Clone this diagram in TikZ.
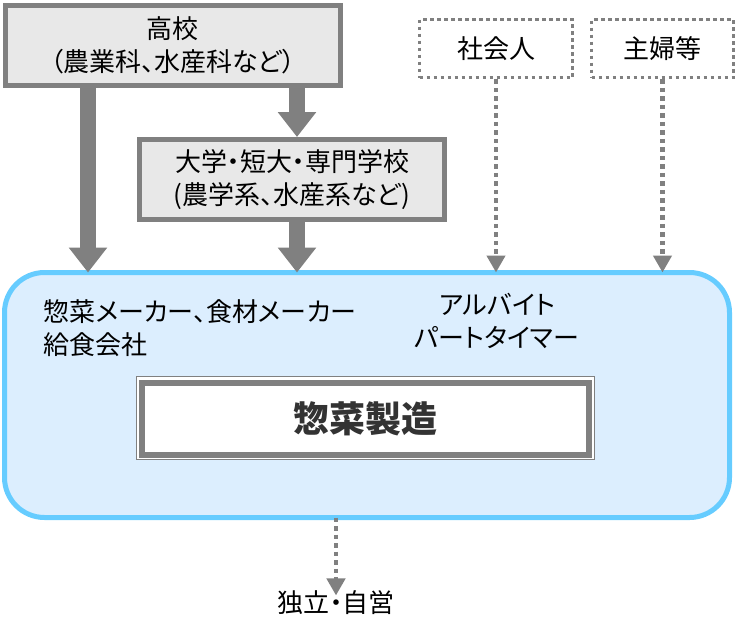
\documentclass[tikz,border=0pt]{standalone}
\usepackage{fontspec}
\setmainfont[RawFeature=+palt]{Noto Sans CJK JP}
\usepackage{tikz}
\usetikzlibrary{arrows.meta}
\definecolor{boxgray}{HTML}{808080}
\definecolor{boxfill}{HTML}{E8E8E8}
\definecolor{areablue}{HTML}{66CCFF}
\definecolor{areafill}{HTML}{DCEEFE}
\tikzset{
  jp/.style={font=\fontsize{26}{33}\selectfont, align=center},
  box/.style={jp, draw=boxgray, line width=5pt, fill=boxfill, inner sep=0pt},
  dotbox/.style={jp, draw=boxgray, line width=3.5pt, dash pattern=on 3.5pt off 3.5pt, inner sep=0pt},
  bigarrow/.style={draw=boxgray, line width=16pt, -{Triangle[width=37pt,length=25pt]}},
  dotarrow/.style={draw=boxgray, line width=4.5pt, dash pattern=on 4.5pt off 4pt,
    -{Triangle[width=18pt,length=17pt]}}
}

\begin{document}
\begin{tikzpicture}[x=1pt,y=-1pt]
    \useasboundingbox (0,0) rectangle (737,633);
    % schools
    \node[box, minimum width=335pt, minimum height=80pt] (koukou) at (173,45.5)
        {高校\\（農業科、水産科など）};
    \node[box, minimum width=305pt, minimum height=80pt] (daigaku) at (292,179.5)
        {大学・短大・専門学校\\(農学系、水産系など)};
    \node[dotbox, minimum width=153pt, minimum height=58pt] (shakaijin) at (496,48.5) {社会人};
    \node[dotbox, minimum width=142pt, minimum height=58pt] (shufu) at (662.5,48.5) {主婦等};
    % workplace
    \node[draw=areablue, fill=areafill, line width=5pt, rounded corners=40pt, outer sep=0pt,
        minimum width=725pt, minimum height=245pt] (area) at (367,395) {};
    \node[jp, anchor=west, align=left] (maker) at (40,328)
        {惣菜メーカー、食材メーカー\\給食会社};
    \node[jp] (arbeit) at (497,321) {アルバイト\\パートタイマー};
    \draw[boxgray, line width=1.5pt, fill=white] (136.5,376.5) rectangle (594.5,459.5);
    \node[draw=boxgray, line width=6pt, fill=white, minimum width=447pt, minimum height=72pt,
        font=\fontsize{36}{40}\selectfont\bfseries, text=black!80] (seizou) at (365.5,418.5) {惣菜製造};
    \node[jp] (dokuritsu) at (336,603) {独立・自営};
    % arrows
    \coordinate (l1) at (88,0);
    \coordinate (l2) at (297,0);
    \draw[bigarrow] (koukou.south -| l1) -- (area.north -| l1);
    \draw[bigarrow] (koukou.south -| l2) -- (daigaku.north -| l2);
    \draw[bigarrow] (daigaku.south -| l2) -- (area.north -| l2);
    \draw[dotarrow] (shakaijin.south) -- (area.north -| shakaijin.south);
    \draw[dotarrow] (shufu.south) -- (area.north -| shufu.south);
    \coordinate (l3) at (336,0);
    \draw[dotarrow] (area.south -| l3) -- ([yshift=-8pt]dokuritsu.north -| l3);
\end{tikzpicture}
\end{document}
